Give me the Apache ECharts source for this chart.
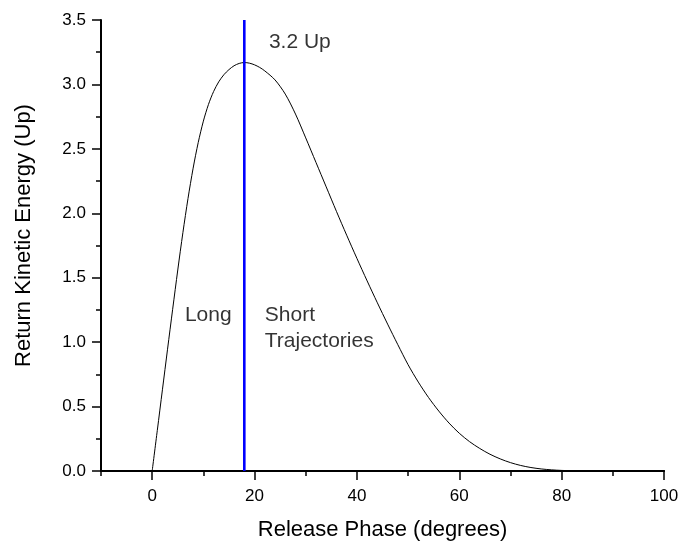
<!DOCTYPE html>
<html>
<head>
<meta charset="utf-8">
<script src="https://cdn.jsdelivr.net/npm/echarts@6/dist/echarts.min.js"></script>
<style>
  html, body { margin: 0; padding: 0; background: #fff; }
  #chart { width: 683px; height: 543px; }
</style>
</head>
<body>
<div id="chart"></div>
<script>
// Release phase (degrees) and return kinetic energy (Up)
var releasePhase = [0, 1, 2, 3, 4, 5, 6, 7, 8, 9, 10, 11, 12, 13, 14, 15, 16, 17, 18, 19, 20, 21, 22,
  24, 26, 28, 30, 32, 34, 36, 38, 40, 42, 44, 46, 48, 50, 52, 54, 56, 58, 60,
  62, 64, 66, 68, 70, 72, 74, 76, 78, 80, 82, 84, 90];
var kineticEnergy = [0, 0.315, 0.63, 0.945, 1.255, 1.56, 1.85, 2.115, 2.35, 2.55, 2.715, 2.845, 2.945, 3.02, 3.075, 3.115, 3.145, 3.163, 3.17, 3.165, 3.152, 3.132, 3.105,
  3.035, 2.925, 2.77, 2.585, 2.395, 2.205, 2.015, 1.83, 1.65, 1.475, 1.305, 1.14, 0.98, 0.825, 0.69, 0.57, 0.465, 0.372, 0.293,
  0.228, 0.175, 0.13, 0.094, 0.065, 0.043, 0.027, 0.016, 0.009, 0.0045, 0.002, 0.0008, 0];

// Cutoff marker (blue vertical line)
var cutoffPhase = 18;
var cutoffRange = [0, 3.5];

// Tick labels
var xMajorTicks = [0, 20, 40, 60, 80, 100];
var xMinorTicks = [-10, 10, 30, 50, 70, 90];

// Annotations: text, x (degrees), y (Up)
var noteTexts = ['3.2 Up', 'Long', 'Short', 'Trajectories'];
var noteX = [22.8, 6.4, 22.0, 22.0];
var noteY = [3.33, 1.21, 1.21, 1.01];

var curveData = releasePhase.map(function (x, i) { return [x, kineticEnergy[i]]; });
var cutoffData = cutoffRange.map(function (y) { return [cutoffPhase, y]; });
var noteData = noteTexts.map(function (t, i) { return { name: t, value: [noteX[i], noteY[i]] }; });

var FONT = '"Liberation Sans", Arial, sans-serif';

var chart = echarts.init(document.getElementById('chart'), null, { renderer: 'canvas' });
chart.setOption({
  animation: false,
  backgroundColor: '#ffffff',
  grid: { left: 101, right: 19, top: 20, bottom: 72, outerBoundsMode: 'none', containLabel: false },
  xAxis: [{
    type: 'value', min: -10, max: 100, position: 'bottom',
    name: 'Release Phase (degrees)', nameLocation: 'middle', nameGap: 48,
    nameTextStyle: { fontFamily: FONT, fontSize: 22, color: '#000' },
    axisLine: { show: true, onZero: false, lineStyle: { color: '#000', width: 2 } },
    axisTick: { show: true, customValues: xMajorTicks, length: 9, lineStyle: { color: '#000', width: 1.5 } },
    axisLabel: { show: true, customValues: xMajorTicks, margin: 17, fontFamily: FONT, fontSize: 17, color: '#000' },
    splitLine: { show: false }
  }, {
    type: 'value', min: -10, max: 100, position: 'bottom',
    axisLine: { show: true, onZero: false, lineStyle: { color: '#000', width: 2 } },
    axisTick: { show: true, customValues: xMinorTicks, length: 5, lineStyle: { color: '#000', width: 1.5 } },
    axisLabel: { show: false },
    splitLine: { show: false }
  }],
  yAxis: {
    type: 'value', min: 0, max: 3.5, interval: 0.5,
    name: 'Return Kinetic Energy (Up)', nameLocation: 'middle', nameGap: 66, nameRotate: 90,
    nameTextStyle: { fontFamily: FONT, fontSize: 22, color: '#000', padding: [0, 0, 0, 20] },
    axisLine: { show: true, onZero: false, lineStyle: { color: '#000', width: 2 } },
    axisTick: { show: true, length: 9, lineStyle: { color: '#000', width: 1.5 } },
    minorTick: { show: true, splitNumber: 2, length: 5, lineStyle: { color: '#000', width: 1.5 } },
    axisLabel: { margin: 15, fontFamily: FONT, fontSize: 17, color: '#000',
      formatter: function (v) { return v.toFixed(1); } },
    splitLine: { show: false },
    minorSplitLine: { show: false }
  },
  series: [{
    type: 'line', xAxisIndex: 0, data: curveData, smooth: 0.3, showSymbol: false,
    lineStyle: { color: '#000', width: 1 }, z: 3
  }, {
    type: 'line', xAxisIndex: 0, data: cutoffData, showSymbol: false,
    lineStyle: { color: '#0000ff', width: 2.6 }, z: 4
  }, {
    type: 'scatter', xAxisIndex: 0, data: noteData, symbolSize: 0,
    label: { show: true, position: 'right', distance: 0, formatter: '{b}',
      fontFamily: FONT, fontSize: 21, color: '#000', align: 'left', verticalAlign: 'middle' },
    z: 5
  }]
});
</script>
</body>
</html>
